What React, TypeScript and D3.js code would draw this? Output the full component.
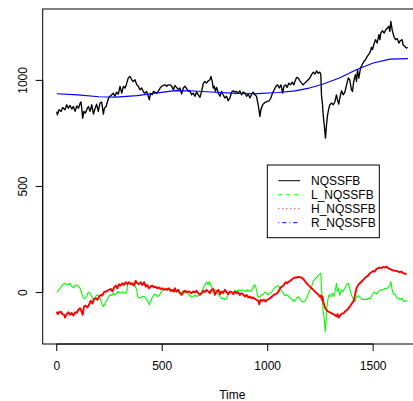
import React from "react";
import * as d3 from "d3";

type P = [number, number];

const seriesNames = ["NQSSFB", "L_NQSSFB", "H_NQSSFB", "R_NQSSFB"];
const seriesColors = ["#000000", "#00FF00", "#FF0000", "#0000FF"];
const legendDash = ["", "4,4", "1,3", "1,3,4,3"];

const xTicks = [0, 500, 1000, 1500];
const yTicks = [0, 500, 1000];

const nqssfb: P[] = [
  [0,853],[3,838],[11,862],[21,854],[28,872],[39,862],[47,885],[55,869],[63,882],[71,865],[79,877],[87,854],[95,880],[103,869],[111,893],[115,898],[120,854],[123,822],[129,854],[136,846],[142,862],[150,877],[158,854],[166,885],[174,841],[182,869],[189,888],[197,854],[205,893],[213,898],[221,841],[226,869],[234,877],[240,898],[246,917],[253,925],[261,932],[268,940],[276,925],[284,945],[292,935],[300,972],[308,940],[316,972],[324,964],[332,987],[339,1011],[347,1019],[355,1003],[363,995],[371,1003],[379,980],[387,972],[395,956],[403,964],[411,945],[418,940],[426,948],[434,925],[439,909],[445,940],[452,932],[458,948],[466,945],[474,940],[482,951],[490,964],[497,972],[505,976],[513,979],[521,972],[529,979],[537,979],[545,972],[553,956],[560,976],[568,967],[576,956],[584,964],[592,937],[600,964],[608,972],[616,961],[624,948],[631,951],[639,932],[647,940],[655,925],[663,945],[671,932],[679,920],[687,948],[695,987],[702,995],[710,987],[718,998],[726,1003],[731,1019],[737,995],[742,964],[747,972],[752,948],[758,967],[766,940],[774,925],[781,948],[789,932],[797,917],[805,925],[813,904],[821,917],[829,945],[837,951],[845,945],[852,948],[860,940],[868,951],[876,932],[884,945],[892,940],[900,925],[908,935],[916,917],[924,935],[931,945],[939,932],[947,925],[955,885],[960,854],[963,830],[968,862],[976,885],[984,893],[991,898],[999,901],[1007,904],[1015,917],[1023,940],[1031,956],[1039,972],[1047,979],[1055,964],[1063,979],[1071,940],[1077,972],[1085,979],[1092,967],[1100,987],[1108,979],[1116,992],[1124,979],[1129,995],[1137,1014],[1145,1011],[1153,998],[1161,987],[1168,979],[1176,987],[1184,995],[1192,1003],[1200,1011],[1208,1027],[1216,1039],[1224,1030],[1232,1045],[1239,1034],[1247,1039],[1252,1027],[1255,932],[1260,885],[1263,838],[1268,791],[1271,760],[1274,728],[1279,791],[1284,838],[1290,869],[1295,885],[1303,893],[1311,885],[1318,898],[1326,932],[1331,909],[1337,888],[1342,917],[1350,951],[1358,932],[1366,945],[1374,979],[1382,1011],[1389,1003],[1397,956],[1402,948],[1408,995],[1416,1027],[1421,995],[1426,1050],[1432,1011],[1440,1058],[1448,1074],[1456,1089],[1464,1097],[1472,1113],[1480,1124],[1487,1137],[1492,1156],[1497,1145],[1503,1168],[1511,1192],[1519,1176],[1527,1215],[1532,1192],[1536,1223],[1544,1234],[1552,1223],[1560,1239],[1568,1247],[1574,1255],[1579,1231],[1584,1278],[1590,1239],[1598,1208],[1606,1192],[1614,1197],[1622,1176],[1629,1187],[1637,1192],[1642,1168],[1650,1160],[1658,1152],[1663,1156]
];

const lNqssfb: P[] = [
  [0,2],[8,8],[16,20],[24,33],[32,39],[39,44],[47,39],[55,36],[63,44],[71,28],[79,24],[87,33],[95,36],[103,28],[111,20],[118,-3],[126,-23],[134,-30],[142,-16],[150,2],[158,-3],[166,-19],[174,-34],[182,-27],[189,-11],[197,-14],[205,-27],[213,-50],[221,-66],[226,-58],[234,-42],[240,-34],[246,-19],[253,-11],[261,-14],[268,-3],[276,-11],[284,-3],[292,5],[300,-3],[308,2],[316,2],[324,-3],[332,5],[336,36],[341,44],[347,39],[355,36],[363,39],[371,33],[379,13],[384,-19],[392,-27],[400,-23],[407,-19],[415,-19],[423,-27],[431,-39],[439,-58],[445,-42],[453,-23],[461,-11],[469,-8],[477,-19],[485,-14],[493,-3],[501,13],[508,17],[516,13],[524,20],[532,13],[540,8],[548,5],[556,8],[560,8],[568,2],[576,5],[584,-3],[592,2],[600,8],[608,-3],[616,2],[624,-8],[631,-14],[639,-23],[647,-19],[655,-11],[663,-19],[671,-14],[679,-8],[687,5],[695,20],[702,36],[710,49],[718,36],[723,52],[729,39],[737,20],[745,8],[753,13],[761,-3],[769,-11],[777,-23],[785,-30],[793,-27],[800,-34],[808,-19],[816,2],[824,5],[832,-3],[840,5],[848,8],[856,8],[863,13],[871,8],[879,13],[887,8],[895,5],[903,13],[911,8],[919,5],[927,17],[935,33],[939,36],[944,24],[950,-3],[955,-23],[963,-19],[971,-11],[979,-8],[987,2],[995,-3],[1003,-11],[1010,-3],[1018,2],[1026,13],[1034,24],[1042,28],[1050,33],[1058,20],[1066,8],[1074,-3],[1081,-14],[1089,-11],[1097,-14],[1105,-23],[1113,-30],[1121,-39],[1129,-39],[1137,-27],[1145,-19],[1153,-30],[1161,-39],[1168,-45],[1176,-39],[1184,-27],[1192,-8],[1200,13],[1208,28],[1216,52],[1224,64],[1232,71],[1239,80],[1247,86],[1252,91],[1255,20],[1260,-42],[1263,-90],[1268,-121],[1273,-184],[1276,-137],[1279,-90],[1284,-42],[1290,-11],[1298,-19],[1306,-3],[1314,-19],[1322,20],[1326,44],[1331,5],[1337,20],[1342,-14],[1350,13],[1358,5],[1366,20],[1374,36],[1382,44],[1389,20],[1397,-11],[1405,-27],[1413,-42],[1421,-23],[1429,-14],[1437,-23],[1445,-30],[1453,-34],[1461,-30],[1468,-34],[1476,-27],[1484,-30],[1492,-19],[1500,-3],[1508,2],[1516,-8],[1524,5],[1532,8],[1540,13],[1547,13],[1555,20],[1563,17],[1571,24],[1579,33],[1584,52],[1590,13],[1598,-8],[1606,-11],[1614,-27],[1622,-27],[1629,-34],[1637,-27],[1645,-42],[1653,-39],[1661,-39]
];

const hNqssfb: P[] = [
  [0,-90],[5,-102],[11,-93],[19,-90],[27,-102],[35,-105],[39,-118],[47,-102],[55,-93],[63,-105],[71,-96],[79,-108],[87,-93],[95,-96],[103,-80],[111,-74],[118,-90],[123,-105],[129,-66],[137,-61],[145,-71],[153,-58],[161,-39],[169,-52],[177,-30],[185,-27],[193,-34],[201,-19],[209,-11],[216,-14],[224,2],[232,5],[240,8],[248,13],[256,17],[264,5],[272,24],[280,33],[287,20],[295,39],[303,33],[311,44],[319,36],[327,49],[335,39],[343,49],[351,39],[358,44],[366,33],[374,55],[382,44],[390,39],[398,49],[406,36],[414,49],[422,28],[429,36],[437,20],[445,28],[453,33],[461,24],[469,28],[477,20],[485,24],[493,17],[501,20],[508,13],[516,17],[524,13],[532,20],[540,8],[548,13],[556,5],[560,20],[568,5],[576,13],[584,-3],[592,-11],[600,2],[608,8],[616,2],[624,5],[631,2],[639,-3],[647,5],[655,2],[663,8],[671,-3],[679,-11],[687,-3],[695,8],[702,2],[710,13],[718,5],[726,-3],[734,13],[742,17],[750,-11],[758,5],[766,13],[774,-8],[781,5],[789,-3],[797,13],[805,2],[813,-8],[821,5],[829,2],[837,-8],[845,5],[852,-3],[860,2],[868,-11],[876,-3],[884,-8],[892,-19],[900,-11],[908,-23],[916,-19],[924,-27],[931,-23],[939,-30],[947,-34],[955,-39],[960,-55],[966,-34],[974,-39],[982,-34],[990,-42],[998,-34],[1006,-30],[1014,-23],[1021,-19],[1029,-11],[1037,-8],[1045,-3],[1053,8],[1061,24],[1069,28],[1077,36],[1085,49],[1092,44],[1100,52],[1108,55],[1116,64],[1124,68],[1129,71],[1137,71],[1145,74],[1153,72],[1161,71],[1168,64],[1176,55],[1184,44],[1192,36],[1200,28],[1208,20],[1216,13],[1224,5],[1232,-3],[1239,-8],[1247,-19],[1252,-14],[1257,-34],[1260,-19],[1263,-42],[1268,-58],[1273,-74],[1279,-82],[1287,-90],[1295,-93],[1303,-98],[1311,-102],[1318,-105],[1326,-113],[1331,-102],[1337,-118],[1345,-105],[1353,-98],[1361,-98],[1369,-86],[1377,-82],[1385,-71],[1393,-61],[1400,-50],[1408,-39],[1416,-3],[1421,20],[1429,36],[1437,44],[1445,52],[1453,60],[1461,68],[1468,75],[1476,80],[1484,91],[1492,96],[1500,102],[1508,99],[1516,112],[1524,115],[1532,118],[1540,115],[1547,121],[1555,118],[1563,123],[1571,115],[1579,112],[1587,107],[1595,105],[1603,102],[1610,102],[1618,99],[1626,96],[1634,99],[1642,91],[1650,90],[1658,86]
];

const rNqssfb: P[] = [
  [0,937],[100,932],[200,923],[280,921],[380,928],[470,940],[560,952],[650,950],[750,944],[850,939],[950,938],[1050,943],[1130,951],[1190,962],[1260,982],[1340,1011],[1420,1050],[1500,1082],[1580,1100],[1665,1103]
];

const allSeries = [nqssfb, lNqssfb, hNqssfb, rNqssfb];

export default function App() {
  const W = 413, H = 401;
  const left = 42.7, right = 422, top = 9, bottom = 344;

  const allPts = allSeries.flat();
  const [tMin, tMax] = d3.extent(allPts, (d) => d[0]) as [number, number];
  const [vMin, vMax] = d3.extent(allPts, (d) => d[1]) as [number, number];
  const tPad = (tMax - tMin) * 0.04;
  const vPad = (vMax - vMin) * 0.04;

  const x = d3.scaleLinear().domain([tMin - tPad, tMax + tPad]).range([left, right]);
  const y = d3.scaleLinear().domain([vMin - vPad, vMax + vPad]).range([bottom, top]);

  const line = d3.line<P>().x((d) => x(d[0])).y((d) => y(d[1]));
  const font = "'Liberation Sans', Arial, Helvetica, sans-serif";
  const widths = [1.35, 1.1, 1.9, 1.2];
  const drawOrder = [0, 1, 2, 3];

  const lgX = 267.3, lgY = 165, lgW = 112, lgH = 72.7;

  return (
    <svg width={W} height={H} style={{ position: "absolute", left: 0, top: 0 }} fontFamily={font}>
      <rect x={0} y={0} width={W} height={H} fill="#fff" />
      <defs>
        <clipPath id="pc">
          <rect x={left} y={top} width={right - left} height={bottom - top} />
        </clipPath>
      </defs>
      <g clipPath="url(#pc)">
        {drawOrder.map((i) => (
          <path key={i} d={line(allSeries[i]) || ""} fill="none" stroke={seriesColors[i]}
            strokeWidth={widths[i]} strokeLinejoin="round" />
        ))}
      </g>
      <rect x={left} y={top} width={right - left} height={bottom - top} fill="none" stroke="#000" strokeWidth={1} />
      {/* x axis */}
      <line x1={x(xTicks[0])} x2={x(xTicks[xTicks.length - 1])} y1={bottom} y2={bottom} stroke="#000" />
      {xTicks.map((t) => (
        <g key={t}>
          <line x1={x(t)} x2={x(t)} y1={bottom} y2={bottom + 7} stroke="#000" />
          <text x={x(t)} y={370} textAnchor="middle" fontSize={12}>{t}</text>
        </g>
      ))}
      {/* y axis */}
      <line x1={left} x2={left} y1={y(yTicks[0])} y2={y(yTicks[yTicks.length - 1])} stroke="#000" />
      {yTicks.map((v) => (
        <g key={v}>
          <line x1={left} x2={left - 7} y1={y(v)} y2={y(v)} stroke="#000" />
          <text transform={`translate(26.5,${y(v)}) rotate(-90)`} textAnchor="middle" fontSize={12}>{v}</text>
        </g>
      ))}
      <text x={(left + right) / 2} y={398.5} textAnchor="middle" fontSize={12}>Time</text>
      {/* legend */}
      <rect x={lgX} y={lgY} width={lgW} height={lgH} fill="#fff" stroke="#000" />
      {seriesNames.map((n, i) => {
        const cy = 180.7 + i * 14;
        return (
          <g key={n}>
            <line x1={278.3} x2={300} y1={cy} y2={cy} stroke={seriesColors[i]} strokeWidth={1}
              strokeDasharray={legendDash[i] || undefined} />
            <text x={311} y={cy + 4.3} fontSize={12}>{n}</text>
          </g>
        );
      })}
    </svg>
  );
}
